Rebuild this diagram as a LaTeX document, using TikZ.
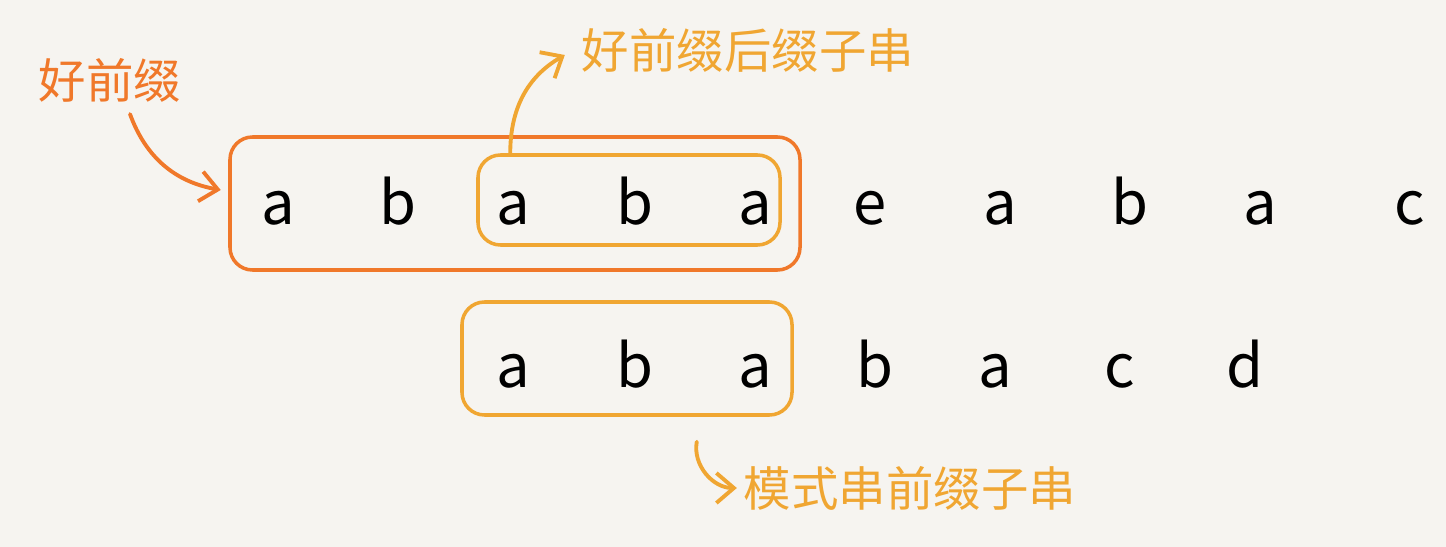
\documentclass[tikz,border=0pt]{standalone}
\usepackage{fontspec}
\setmainfont{Noto Sans CJK SC}
\usepackage{tikz}
\usetikzlibrary{arrows, arrows.meta, positioning}
\definecolor{paper}{HTML}{F6F4F0}
\definecolor{preorange}{HTML}{F0782A}
\definecolor{subyellow}{HTML}{F0A632}
\tikzstyle{arrow} = [line width=2.2pt,-{Straight Barb[length=3.5mm,width=6mm]},line cap=round]

\begin{document}
\begin{tikzpicture}[
    chr/.style={font=\fontsize{34}{36}\selectfont,anchor=base},
    box/.style={line width=2pt,rounded corners=0.45cm,inner sep=0pt},
    lbl/.style={font=\fontsize{27}{29}\selectfont,inner sep=1pt}
]
  \fill[paper] (0,0) rectangle (28.92,10.94);

  % main string
  \node[chr] (m0) at (5.56, 6.44) {a};
  \node[chr] (m1) at (7.96, 6.44) {b};
  \node[chr] (m2) at (10.26,6.44) {a};
  \node[chr] (m3) at (12.70,6.44) {b};
  \node[chr] (m4) at (15.10,6.44) {a};
  \node[chr] (m5) at (17.40,6.44) {e};
  \node[chr] (m6) at (20.00,6.44) {a};
  \node[chr] (m7) at (22.60,6.44) {b};
  \node[chr] (m8) at (25.20,6.44) {a};
  \node[chr] (m9) at (28.20,6.44) {c};

  % pattern
  \node[chr] (p0) at (10.26,3.18) {a};
  \node[chr] (p1) at (12.70,3.18) {b};
  \node[chr] (p2) at (15.10,3.18) {a};
  \node[chr] (p3) at (17.50,3.18) {b};
  \node[chr] (p4) at (19.90,3.18) {a};
  \node[chr] (p5) at (22.40,3.18) {c};
  \node[chr] (p6) at (24.90,3.18) {d};

  % boxes
  \node (outer) at (10.30,6.87) [draw=preorange, box, minimum width=11.4cm, minimum height=2.66cm] {};
  \node (inner) at (12.58,6.94) [draw=subyellow, box, minimum width=6.04cm, minimum height=1.8cm] {};
  \node (lower) at (12.54,3.77) [draw=subyellow, box, minimum width=6.6cm,  minimum height=2.26cm] {};

  % labels
  \node (goodpre) at (2.20,9.34) [lbl, text=preorange] {好前缀};
  \node (suflbl)  at (14.96,9.94) [lbl, text=subyellow] {好前缀后缀子串};
  \node (prelbl)  at (18.20,1.18) [lbl, text=subyellow] {模式串前缀子串};

  \draw[arrow, preorange] ([xshift=0.4cm,yshift=-0.2cm]goodpre.south) to[out=-70,in=170] ([xshift=-0.15cm,yshift=0.27cm]outer.west);
  \draw[arrow, subyellow] ([xshift=0.68cm]inner.north west) to[out=90,in=210] ([xshift=-0.3cm,yshift=-0.1cm]suflbl.west);
  \draw[arrow, subyellow] ([xshift=-1.94cm,yshift=-0.5cm]lower.south east) to[out=-100,in=180] ([xshift=-0.1cm]prelbl.west);
\end{tikzpicture}
\end{document}
